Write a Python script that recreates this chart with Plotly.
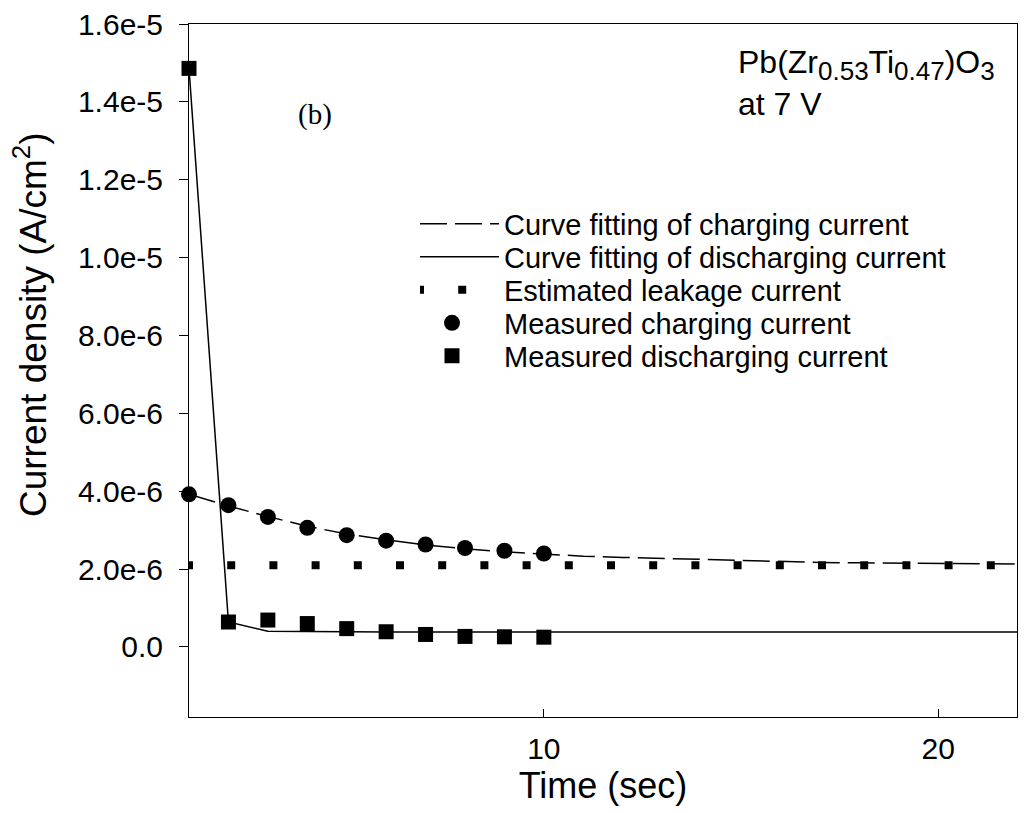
import plotly.graph_objects as go

# ---- data ----
time_measured = [1, 2, 3, 4, 5, 6, 7, 8, 9, 10]
charging_measured = [3.92e-6, 3.64e-6, 3.34e-6, 3.06e-6, 2.87e-6, 2.73e-6, 2.63e-6, 2.54e-6, 2.47e-6, 2.40e-6]
discharging_measured = [1.486e-5, 0.64e-6, 0.69e-6, 0.60e-6, 0.47e-6, 0.39e-6, 0.32e-6, 0.27e-6, 0.26e-6, 0.25e-6]

time_fit = [1, 2, 3, 4, 5, 6, 7, 8, 9, 10, 11, 12, 13, 14, 15, 16, 17, 18, 19, 20, 21, 22]
charging_fit = [3.92e-6, 3.62e-6, 3.35e-6, 3.10e-6, 2.90e-6, 2.75e-6, 2.62e-6, 2.52e-6, 2.44e-6, 2.38e-6,
                2.33e-6, 2.30e-6, 2.27e-6, 2.24e-6, 2.22e-6, 2.19e-6, 2.17e-6, 2.16e-6, 2.15e-6, 2.14e-6,
                2.13e-6, 2.13e-6]
discharging_fit = [1.486e-5, 0.64e-6, 0.40e-6, 0.39e-6, 0.39e-6, 0.385e-6, 0.385e-6, 0.385e-6, 0.385e-6, 0.385e-6,
                   0.385e-6, 0.385e-6, 0.385e-6, 0.385e-6, 0.385e-6, 0.385e-6, 0.385e-6, 0.385e-6, 0.385e-6, 0.385e-6,
                   0.385e-6, 0.385e-6]

leakage_time = [1, 22]
leakage_current = [2.10e-6, 2.10e-6]

series_names = ["Curve fitting of charging current",
                "Curve fitting of discharging current",
                "Estimated leakage current",
                "Measured charging current",
                "Measured discharging current"]

y_tickvals = [0, 2e-6, 4e-6, 6e-6, 8e-6, 1.0e-5, 1.2e-5, 1.4e-5, 1.6e-5]
y_ticktext = ["0.0", "2.0e-6", "4.0e-6", "6.0e-6", "8.0e-6", "1.0e-5", "1.2e-5", "1.4e-5", "1.6e-5"]
x_tickvals = [10, 20]
x_ticktext = ["10", "20"]

SANS = "Liberation Sans, Arial, sans-serif"
SERIF = "Liberation Serif, Times New Roman, serif"

# plot area in pixels (for placing annotations / legends in paper units)
W, H = 1024, 813
ML, MR, MT, MB = 189, 7, 24, 96
PW, PH = W - ML - MR, H - MT - MB


def px_x(x):
    return (x - ML) / PW


def px_y(y):
    return (H - MB - y) / PH


fig = go.Figure()
fig.add_trace(go.Scatter(x=time_fit, y=charging_fit, mode="lines",
                         name=series_names[0], legend="legend",
                         line=dict(color="black", width=1.5, dash="27px,8px")))
fig.add_trace(go.Scatter(x=time_fit, y=discharging_fit, mode="lines",
                         name=series_names[1], legend="legend2",
                         line=dict(color="black", width=1.5)))
fig.add_trace(go.Scatter(x=leakage_time, y=leakage_current, mode="lines",
                         name=series_names[2], legend="legend3",
                         line=dict(color="black", width=8, dash="4px,34.2px,4px,0px")))
fig.add_trace(go.Scatter(x=time_measured, y=charging_measured, mode="markers",
                         name=series_names[3], legend="legend4", cliponaxis=False,
                         marker=dict(symbol="circle", size=16, color="black")))
fig.add_trace(go.Scatter(x=time_measured, y=discharging_measured, mode="markers",
                         name=series_names[4], legend="legend5", cliponaxis=False,
                         marker=dict(symbol="square", size=15, color="black")))

legend_font = dict(family=SANS, size=29, color="black")
row_y = [224, 257, 290, 323, 356]


def legend_box(row, left_px, width):
    return dict(x=px_x(left_px), y=px_y(row_y[row]), xanchor="left", yanchor="middle",
                bgcolor="rgba(0,0,0,0)", borderwidth=0, font=legend_font,
                itemwidth=width)


fig.update_layout(
    width=W, height=H,
    margin=dict(l=ML, r=MR, t=MT, b=MB),
    paper_bgcolor="white", plot_bgcolor="white",
    font=dict(family=SANS, color="black"),
    showlegend=True,
    legend=legend_box(0, 415, 79),
    legend2=legend_box(1, 415, 79),
    legend3=legend_box(2, 415, 79),
    legend4=legend_box(3, 400, 94),
    legend5=legend_box(4, 400, 94),
    annotations=[
        dict(text="Current density (A/cm<sup>2</sup>)", xref="paper", yref="paper",
             x=px_x(30), y=px_y(325), textangle=-90, showarrow=False,
             xanchor="center", yanchor="middle",
             font=dict(family=SANS, size=37, color="black")),
        dict(text="(b)", xref="paper", yref="paper",
             x=px_x(315), y=px_y(114), showarrow=False,
             xanchor="center", yanchor="middle",
             font=dict(family=SERIF, size=29, color="black")),
        dict(text=("Pb(Zr<sub><span style='font-size:26px'>0.53</span></sub>"
                   "Ti<sub><span style='font-size:26px'>0.47</span></sub>)"
                   "O<sub><span style='font-size:26px'>3</span></sub><br>at 7 V"),
             xref="paper", yref="paper", x=px_x(736), y=px_y(42),
             xanchor="left", yanchor="top", align="left", showarrow=False,
             font=dict(family=SANS, size=32, color="black")),
    ],
)

fig.update_xaxes(range=[1, 22], tickvals=x_tickvals, ticktext=x_ticktext,
                 ticks="inside", ticklen=8, tickwidth=1, tickcolor="black",
                 showline=True, linecolor="black", linewidth=1, mirror=True,
                 showgrid=False, zeroline=False,
                 tickfont=dict(family=SANS, size=30, color="black"),
                 ticklabelstandoff=5,
                 title=dict(text="Time (sec)", font=dict(family=SANS, size=36, color="black"),
                            standoff=0))
fig.update_yaxes(range=[-1.8e-6, 1.6e-5], tickvals=y_tickvals, ticktext=y_ticktext,
                 ticks="outside", ticklen=9, tickwidth=1, tickcolor="black",
                 showline=True, linecolor="black", linewidth=1, mirror=True,
                 showgrid=False, zeroline=False,
                 tickfont=dict(family=SANS, size=30, color="black"),
                 ticklabelstandoff=10)

fig.write_html("out.html")
